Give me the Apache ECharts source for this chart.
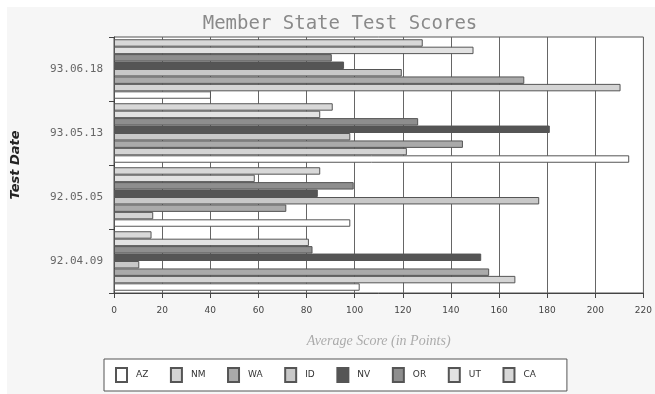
<!DOCTYPE html>
<html>
<head>
<meta charset="utf-8">
<script src="https://cdn.jsdelivr.net/npm/echarts@6/dist/echarts.min.js"></script>
<style>html,body{margin:0;padding:0;background:#fff}#c{width:655px;height:394px}</style>
</head>
<body>
<div id="c"></div>
<script>
// Categories (bottom to top on the axis)
var categories = ['92.04.09', '92.05.05', '93.05.13', '93.06.18'];
var seriesNames = ['AZ', 'NM', 'WA', 'ID', 'NV', 'OR', 'UT', 'CA'];
var xTicks = [0, 20, 40, 60, 80, 100, 120, 140, 160, 180, 200, 220];

var AZ = [102.1, 98.2, 214.1, 40.3];
var NM = [166.8, 16.3, 121.7, 210.5];
var WA = [155.9, 71.6, 145.0, 170.5];
var ID = [10.5, 176.7, 98.2, 119.6];
var NV = [152.6, 84.7, 181.1, 95.6];
var OR = [82.5, 99.6, 126.4, 90.5];
var UT = [81.0, 58.5, 85.7, 149.4];
var CA = [15.6, 85.7, 90.9, 128.3];

var values = { AZ: AZ, NM: NM, WA: WA, ID: ID, NV: NV, OR: OR, UT: UT, CA: CA };
var colors = { AZ: '#ffffff', NM: '#d4d4d4', WA: '#aaaaaa', ID: '#c8c8c8', NV: '#555555', OR: '#8e8e8e', UT: '#e2e2e2', CA: '#d8d8d8' };

var chart = echarts.init(document.getElementById('c'), null, { renderer: 'canvas' });

// series drawn in reverse so that AZ sits at the bottom of each group
var series = seriesNames.slice().reverse().map(function (n) {
  return {
    name: n,
    type: 'bar',
    data: values[n],
    barGap: '0%',
    barCategoryGap: '7%',
    itemStyle: { color: colors[n], borderColor: '#555', borderWidth: 1 },
    emphasis: { disabled: true },
    animation: false
  };
});

chart.setOption({
  backgroundColor: '#ffffff',
  animation: false,
  graphic: [{
    type: 'rect', z: -100, silent: true,
    shape: { x: 7, y: 7, width: 648, height: 387 },
    style: { fill: '#f6f6f6' }
  }],
  title: {
    text: 'Member State Test Scores',
    left: 335, top: 10, textAlign: 'center',
    textStyle: { fontFamily: 'DejaVu Sans Mono', fontSize: 19, fontWeight: 'normal', color: '#8a8a8a' }
  },
  legend: {
    data: seriesNames,
    left: 104, top: 359,
    orient: 'horizontal',
    padding: [8, 31, 8, 11],
    itemWidth: 11, itemHeight: 14, itemGap: 21.6,
    icon: 'rect',
    borderColor: '#555', borderWidth: 1, backgroundColor: '#ffffff',
    selectedMode: false,
    formatter: '{t|{name}}',
    textStyle: {
      fontFamily: 'DejaVu Sans', fontSize: 9, color: '#333',
      rich: { t: { width: 31, padding: [0, 0, 0, 4], fontFamily: 'DejaVu Sans', fontSize: 9, color: '#333' } }
    }
  },
  grid: {
    left: 114, right: 6, top: 37, height: 256,
    show: true, backgroundColor: '#ffffff', borderColor: '#555', borderWidth: 1,
    containLabel: false
  },
  xAxis: {
    type: 'value', min: 0, max: 220, interval: 20,
    name: 'Average Score (in Points)', nameLocation: 'middle', nameGap: 41,
    nameTextStyle: { fontFamily: 'Liberation Serif', fontStyle: 'italic', fontSize: 14, color: '#ababab' },
    axisLine: { show: true, lineStyle: { color: '#444' } },
    axisTick: { show: true, length: 5, lineStyle: { color: '#444' } },
    axisLabel: {
      margin: 13, fontFamily: 'DejaVu Sans', fontSize: 9, color: '#444',
      formatter: function (v) { return xTicks.indexOf(v) >= 0 ? String(v) : ''; }
    },
    splitLine: { show: true, lineStyle: { color: '#666', width: 1 } }
  },
  yAxis: {
    type: 'category', data: categories,
    name: 'Test Date', nameLocation: 'middle', nameGap: 92, nameRotate: 90,
    nameTextStyle: { fontFamily: 'DejaVu Sans', fontStyle: 'italic', fontWeight: 'bold', fontSize: 13, color: '#222' },
    axisLine: { show: true, lineStyle: { color: '#444' } },
    axisTick: { show: true, length: 5, lineStyle: { color: '#444' } },
    axisLabel: { margin: 11, fontFamily: 'DejaVu Sans Mono', fontSize: 11, color: '#666' },
    splitLine: { show: false }
  },
  series: series
});
</script>
</body>
</html>
